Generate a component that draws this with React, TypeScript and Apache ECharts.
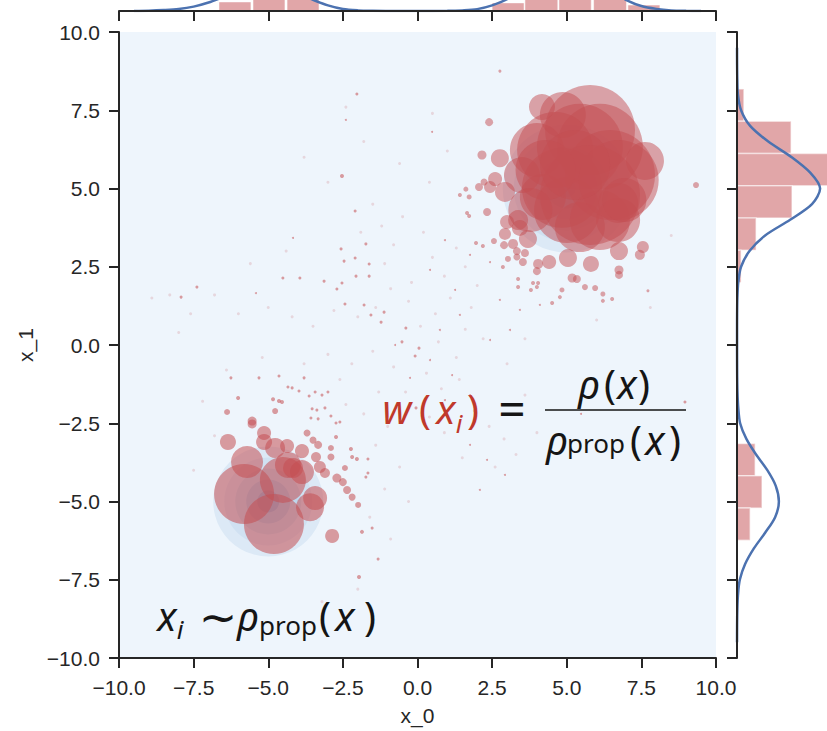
import React, { useEffect, useRef } from 'react';
import * as echarts from 'echarts';

// ---- axis ticks
const AXIS_MIN = -10;
const AXIS_MAX = 10;
const AXIS_STEP = 2.5;

// ---- proposal density contours (centre x, centre y)
const ringCenters: [number, number][] = [[5, 5], [-5, -5]];
const upperRingSizes = [128, 106, 84, 62, 40, 18];
const lowerRingSizes = [110, 88, 66, 44, 22];
const ringColors = ['#dce9f6', '#d0e1f2', '#bfd7ec', '#a9cae4', '#90b9dc', '#7aa8d3'];

// ---- weighted samples: [x, y, marker diameter]
const upperSamples: [number, number, number][] = [
  [4.17, 7.6, 26], [4.87, 7.35, 46], [5.44, 6.33, 86], [6.11, 6.33, 86], [7.62, 5.88, 38],
  [4.0, 6.23, 54], [3.5, 5.43, 36], [6.72, 4.54, 40], [6.72, 3.99, 44], [5.44, 3.77, 50],
  [5.01, 4.31, 66], [4.2, 4.73, 46], [4.84, 5.02, 80], [5.78, 6.87, 90], [4.61, 6.23, 76],
  [6.45, 5.43, 90], [5.78, 4.79, 100], [4.29, 5.59, 60], [6.11, 3.99, 60], [6.74, 5.27, 80],
  [3.78, 4.31, 44], [5.28, 5.75, 70], [6.93, 4.63, 44],
  [2.93, 4.89, 20], [2.76, 5.97, 18], [2.6, 5.3, 14], [2.43, 5.05, 12], [2.16, 6.07, 9],
  [2.4, 7.12, 8], [3.0, 3.93, 14], [3.37, 3.99, 20], [3.43, 3.74, 16], [3.7, 3.39, 18],
  [2.93, 3.55, 12], [4.41, 2.65, 14], [5.04, 2.78, 18], [5.81, 2.59, 16], [6.75, 3.0, 18],
  [7.55, 3.13, 12], [7.45, 2.88, 10], [6.75, 2.4, 9], [6.75, 2.24, 8], [5.18, 2.14, 9],
  [5.34, 2.11, 8], [4.04, 2.59, 10], [4.0, 2.36, 8], [3.53, 2.65, 8], [3.2, 3.23, 10],
  [3.33, 3.0, 8], [3.6, 2.94, 8], [3.33, 2.81, 7], [3.03, 2.75, 6], [2.56, 3.32, 6],
  [2.9, 3.19, 8], [2.33, 4.25, 8], [2.06, 5.05, 8], [2.23, 5.21, 7], [1.62, 4.98, 5],
  [1.73, 4.73, 5], [1.42, 4.79, 4], [1.66, 4.22, 4], [1.73, 4.12, 4], [1.96, 3.26, 4],
  [2.19, 3.16, 4], [2.86, 2.49, 4], [3.37, 2.11, 4], [3.37, 1.85, 4], [3.87, 1.98, 4],
  [4.04, 1.98, 4], [4.0, 1.85, 4], [3.8, 1.76, 4], [4.84, 1.76, 5], [4.77, 1.53, 4],
  [5.61, 1.85, 6], [5.95, 1.82, 6], [6.21, 1.63, 5], [6.52, 1.47, 4], [6.21, 1.41, 4],
  [4.51, 1.34, 4], [9.33, 5.11, 6], [7.72, 1.73, 3], [2.76, 8.75, 3],
];

const lowerSamples: [number, number, number][] = [
  [-4.81, -5.72, 60], [-5.81, -4.76, 60], [-5.71, -3.74, 32], [-4.51, -4.31, 46],
  [-4.34, -3.83, 26], [-4.17, -3.93, 20], [-3.6, -5.18, 28], [-3.43, -4.89, 24],
  [-3.87, -4.06, 24], [-3.87, -3.39, 14], [-4.37, -3.23, 14], [-4.77, -3.29, 20],
  [-5.14, -2.81, 14], [-5.14, -3.1, 16], [-6.35, -3.1, 16], [-5.54, -2.43, 9],
  [-5.54, -2.52, 9], [-6.38, -2.14, 6], [-6.01, -1.69, 4], [-4.77, -2.11, 6],
  [-4.84, -1.73, 4], [-4.64, -1.79, 4], [-4.54, -1.82, 4], [-2.86, -6.1, 14],
  [-3.4, -3.58, 10], [-3.33, -3.19, 8], [-3.5, -3.04, 7], [-3.7, -2.81, 7],
  [-2.9, -3.58, 7], [-3.27, -3.9, 12], [-3.1, -4.09, 10], [-2.7, -4.25, 9],
  [-2.5, -4.38, 8], [-2.36, -4.63, 8], [-2.19, -4.86, 7], [-1.99, -5.11, 6],
  [-2.43, -3.93, 6], [-2.73, -2.94, 4], [-2.9, -3.29, 6], [-2.19, -3.58, 4],
  [-2.03, -3.64, 4], [-1.66, -3.64, 3], [-1.86, -5.97, 4], [-1.52, -5.85, 3],
  [-1.32, -6.84, 3], [-1.96, -7.41, 4], [-1.73, -4.22, 3], [-1.66, -4.09, 3],
  [-2.23, -3.32, 4], [-2.73, -2.49, 3], [-3.57, -2.33, 3], [-3.33, -2.36, 3],
  [-3.1, -2.01, 3], [-3.53, -2.04, 3], [-3.37, -2.08, 3], [-2.9, -2.27, 3],
  [-2.6, -2.46, 3], [-4.34, -1.34, 3], [-4.2, -1.37, 3], [-3.97, -1.47, 3],
  [-3.63, -1.63, 3], [-3.43, -1.5, 3], [-3.2, -1.6, 3], [-3.0, -1.5, 3],
];

const bridgeSamples: [number, number, number][] = [
  [-2.53, 5.4, 4], [-2.09, 4.28, 3], [-2.56, 3.07, 3], [-2.46, 2.68, 3], [-2.09, 2.78, 3],
  [-1.62, 2.59, 3], [-2.06, 2.2, 3], [-1.62, 2.2, 3], [-2.53, 1.98, 3], [-2.7, 1.79, 3],
  [-3.13, 2.04, 3], [-3.94, 2.14, 3], [-4.51, 2.14, 3], [-7.39, 1.85, 3], [-7.92, 1.53, 3],
  [-2.43, 1.31, 3], [-1.79, 1.28, 3], [-1.56, 0.96, 3], [-1.12, 1.05, 3], [-1.22, 0.73, 3],
  [-0.39, 0.54, 3], [-0.52, 0.1, 3], [-0.08, -0.35, 3], [0.05, -0.1, 3], [-1.73, 3.23, 3],
  [-6.25, -1.05, 3], [-5.31, -1.05, 3], [-4.64, -0.99, 3], [-3.8, -1.05, 3],
  [-2.03, 8.02, 3], [-2.4, 7.19, 2], [0.49, 6.81, 2], [-4.17, 3.42, 2], [-5.41, 1.66, 2],
  [-0.05, -2.01, 3], [-0.59, -2.4, 2], [-0.25, -1.05, 2], [0.92, -1.76, 2], [1.76, -3.19, 2],
  [2.33, -3.67, 2], [2.93, -4.15, 2], [2.09, -4.63, 2], [8.96, -1.82, 3], [5.48, -2.2, 2],
  [2.76, 1.44, 2], [1.42, 0.96, 2], [0.75, 0.48, 2], [0.42, -0.48, 2], [-0.75, 0.0, 2],
  [1.16, -0.96, 2], [1.76, -1.6, 2], [2.43, 0.16, 2], [3.1, 0.48, 2], [3.43, 1.12, 2],
  [4.1, 1.28, 2], [1.26, 1.76, 2], [0.42, 2.4, 2], [0.92, 3.35, 2], [1.76, 2.88, 2],
  [2.43, 2.65, 2],
];

const faintSamples: [number, number][] = [
  [-1.5, 4.5], [-1.2, 3.8], [-0.8, 3.2], [-0.5, 4.1], [0.2, 3.6], [0.5, 2.8], [0.9, 2.2],
  [1.3, 3.1], [1.6, 2.5], [2.0, 1.9], [1.8, 1.2], [1.1, 1.5], [0.6, 1.0], [0.1, 0.6],
  [-0.3, 1.4], [-0.9, 1.8], [-1.4, 1.2], [-2.0, 0.9], [-2.8, 1.1], [-3.5, 0.6], [-4.2, 0.9],
  [-5.0, 1.2], [-6.0, 1.0], [-6.8, 1.6], [-7.6, 1.0], [-8.3, 1.6], [-8.9, 1.5], [-3.0, -0.3],
  [-2.2, -0.6], [-1.5, -0.2], [-0.8, -0.7], [0.3, -0.9], [0.8, -1.4], [1.4, -1.1], [1.9, -2.1],
  [2.4, -2.6], [2.9, -3.0], [3.3, -3.5], [2.6, -3.9], [1.5, -3.6], [0.9, -2.8], [0.4, -2.3],
  [-0.4, -1.5], [-1.0, -2.6], [-1.4, -3.2], [-0.6, -3.9], [-1.1, -4.6], [-0.3, -5.0],
  [-1.6, -5.5], [-0.9, -6.2], [-2.6, -1.1], [-3.8, -0.6], [-5.2, -0.4], [-6.4, -0.8],
  [-7.2, -1.8], [-6.8, -2.9], [-7.5, -4.0], [-3.0, 5.2], [-3.8, 6.0], [-1.8, 6.5],
  [-0.6, 5.8], [0.4, 5.2], [1.0, 6.2], [0.5, 7.4], [-2.4, 7.6], [1.6, 0.5], [2.2, 0.2],
  [3.0, -0.6], [3.6, -1.6], [4.0, -2.8], [-2.0, -7.8], [-3.2, -8.2], [6.0, 0.8], [7.8, 1.2],
  [8.5, 3.5], [3.6, 0.2], [-4.4, 3.0], [-5.6, 2.6], [-8.0, 0.4], [-1.9, 3.6], [-1.1, 2.6],
  [-0.2, 2.0], [0.7, 0.1], [1.3, -0.4], [-2.4, -1.9], [-1.8, -2.2], [-1.3, -1.5],
];

// ---- marginal histogram for x_1 (right): [y0, y1, density]
const rightHist: [number, number, number][] = [
  [7.15, 8.18, 0.022], [6.12, 7.15, 0.173], [5.09, 6.12, 0.33], [4.06, 5.09, 0.176],
  [3.03, 4.06, 0.061], [2.0, 3.03, 0.013],
  [-4.18, -3.15, 0.058], [-5.21, -4.18, 0.08], [-6.24, -5.21, 0.042],
];
const rightKdeY = [9.5, 9, 8.5, 8, 7.5, 7, 6.5, 6, 5.5, 5, 4.5, 4, 3.5, 3, 2.5, 2, 1.5, 1, 0.5, 0, -0.5, -1, -1.5, -2, -2.5, -3, -3.5, -4, -4.5, -5, -5.5, -6, -6.5, -7, -7.5, -8, -8.5, -9, -9.5];
const rightKdeD = [0.0001, 0.0003, 0.001, 0.003, 0.013, 0.042, 0.1, 0.175, 0.235, 0.266, 0.24, 0.17, 0.09, 0.04, 0.013, 0.004, 0.0012, 0.0004, 0.0002, 0.0002, 0.0003, 0.0006, 0.0015, 0.004, 0.01, 0.03, 0.061, 0.097, 0.124, 0.134, 0.122, 0.09, 0.054, 0.026, 0.009, 0.003, 0.001, 0.0003, 0.0001];

// ---- marginal histogram for x_0 (top): [x0, x1, density]
const topHist: [number, number, number][] = [
  [-6.65, -5.58, 0.029], [-5.51, -4.44, 0.096], [-4.37, -3.3, 0.064],
  [2.5, 3.57, 0.026], [3.6, 4.7, 0.128], [4.74, 5.82, 0.19], [5.9, 7.0, 0.128], [7.05, 8.12, 0.019],
];
const topKdeX = [-9.5, -9, -8.5, -8, -7.5, -7, -6.5, -6, -5.5, -5, -4.5, -4, -3.5, -3, -2.5, -2, -1.5, -1, 0, 1, 1.5, 2, 2.5, 3, 3.5, 4, 4.5, 5, 5.5, 6, 6.5, 7, 7.5, 8, 8.5, 9, 9.5];
const topKdeD = [0.0003, 0.001, 0.003, 0.0064, 0.014, 0.027, 0.045, 0.063, 0.078, 0.083, 0.075, 0.057, 0.036, 0.018, 0.0064, 0.002, 0.0006, 0.0003, 0.0002, 0.0005, 0.002, 0.006, 0.018, 0.038, 0.07, 0.103, 0.124, 0.128, 0.12, 0.097, 0.066, 0.035, 0.016, 0.0068, 0.002, 0.0006, 0.0002];

const RED = '#c44e52';
const BLUE = '#4c72b0';
const INK = '#262626';
const LABEL_FONT = '"Liberation Sans", Arial, Helvetica, sans-serif';
const MATH_FONT = '"Noto Sans", "DejaVu Sans", sans-serif';

const fmt = (v: number) => (v < 0 ? '\u2212' : '') + Math.abs(v).toFixed(1);

function glyph(text: string, x: number, y: number, size: number, italic: boolean, color = '#151515') {
  return {
    type: 'text',
    x,
    y,
    silent: true,
    style: {
      text,
      fill: color,
      fontSize: size,
      fontFamily: MATH_FONT,
      fontStyle: italic ? 'italic' : 'normal',
      align: 'center',
      textAlign: 'center',
      verticalAlign: 'middle',
      textVerticalAlign: 'middle',
    },
  };
}

export default function App() {
  const ref = useRef<HTMLDivElement>(null);

  useEffect(() => {
    document.body.style.margin = '0';
    if (!ref.current) return;
    const chart = echarts.init(ref.current, undefined, { renderer: 'svg' });

    const ringData: any[] = [];
    ringCenters.forEach((c, ci) => {
      const sizes = ci === 0 ? upperRingSizes : lowerRingSizes;
      sizes.forEach((s, i) => ringData.push([c[0], c[1], s, i]));
    });

    const F = 40;
    const S = 26;
    const W = '#c0392b';
    const graphics: any[] = [
      // w(x_i) = rho(x) / rho_prop(x)
      glyph('w', 397, 408, F, true, W),
      glyph('(', 425, 408, F, false, W),
      glyph('x', 446, 408, F, true, W),
      glyph('i', 459, 423, S, true, W),
      glyph(')', 473, 408, F, false, W),
      glyph('=', 512, 407, 48, false),
      { type: 'line', silent: true, shape: { x1: 545, y1: 410, x2: 686, y2: 410 }, style: { stroke: '#151515', lineWidth: 1.6 } },
      glyph('\u03c1', 589, 383, F, true),
      glyph('(', 610, 383, F, false),
      glyph('x', 627, 383, F, true),
      glyph(')', 644, 383, F, false),
      glyph('\u03c1', 557, 439, F, true),
      glyph('prop', 596, 443, S, false),
      glyph('(', 636, 439, F, false),
      glyph('x', 655, 439, F, true),
      glyph(')', 675, 439, F, false),
      // x_i ~ rho_prop(x)
      glyph('x', 167, 615, F, true),
      glyph('i', 180, 629, S, true),
      glyph('\u223c', 218, 615, 46, false),
      glyph('\u03c1', 248, 615, F, true),
      glyph('prop', 288, 625, S, false),
      glyph('(', 325, 615, F, false),
      glyph('x', 345, 615, F, true),
      glyph(')', 370, 615, F, false),
    ];

    const axisLine = { show: true, onZero: false, lineStyle: { color: INK, width: 2 } };
    const axisTick = { show: true, inside: false, length: 10, lineStyle: { color: INK, width: 2 } };
    const labelStyle = { formatter: fmt, color: INK, fontSize: 21, fontFamily: LABEL_FONT, margin: 19 };
    const nameStyle = { color: INK, fontSize: 21, fontFamily: LABEL_FONT };

    chart.setOption({
      animation: false,
      grid: [
        { left: 119, top: 32, width: 597, height: 626, show: true, backgroundColor: '#eef5fc', borderWidth: 0, containLabel: false, outerBoundsMode: 'none' },
        { left: 119, top: -89, width: 597, height: 100, containLabel: false, outerBoundsMode: 'none' },
        { left: 737, top: 32, width: 90, height: 626, containLabel: false, outerBoundsMode: 'none' },
      ],
      xAxis: [
        {
          gridIndex: 0, type: 'value', min: AXIS_MIN, max: AXIS_MAX, interval: AXIS_STEP, position: 'bottom',
          axisLine, axisTick, splitLine: { show: false }, axisLabel: labelStyle,
          name: 'x_0', nameLocation: 'middle', nameGap: 47,
          nameTextStyle: { ...nameStyle, verticalAlign: 'top' },
          z: 10,
        },
        {
          gridIndex: 1, type: 'value', min: AXIS_MIN, max: AXIS_MAX, interval: AXIS_STEP, position: 'bottom',
          axisLine, axisTick, splitLine: { show: false }, axisLabel: { show: false }, z: 10,
        },
        { gridIndex: 2, type: 'value', min: 0, max: 0.288, show: false },
      ],
      yAxis: [
        {
          gridIndex: 0, type: 'value', min: AXIS_MIN, max: AXIS_MAX, interval: AXIS_STEP, position: 'left',
          axisLine, axisTick, splitLine: { show: false }, axisLabel: labelStyle,
          name: 'x_1', nameLocation: 'middle', nameGap: 82, nameRotate: 90,
          nameTextStyle: nameStyle,
          z: 10,
        },
        { gridIndex: 1, type: 'value', min: 0, max: 0.32, show: false },
        {
          gridIndex: 2, type: 'value', min: AXIS_MIN, max: AXIS_MAX, interval: AXIS_STEP, position: 'left',
          axisLine, axisTick, splitLine: { show: false }, axisLabel: { show: false }, z: 10,
        },
      ],
      series: [
        {
          type: 'scatter', xAxisIndex: 0, yAxisIndex: 0, data: ringData, silent: true,
          symbolSize: (v: number[]) => v[2],
          itemStyle: { color: (p: any) => ringColors[p.data[3]], opacity: 1 },
        },
        {
          type: 'scatter', xAxisIndex: 0, yAxisIndex: 0, silent: true,
          data: faintSamples.map((p) => [p[0], p[1], 3]),
          symbolSize: (v: number[]) => v[2],
          itemStyle: { color: RED, opacity: 0.18 },
        },
        {
          type: 'scatter', xAxisIndex: 0, yAxisIndex: 0, silent: true, data: bridgeSamples,
          symbolSize: (v: number[]) => v[2],
          itemStyle: { color: RED, opacity: 0.55 },
        },
        {
          type: 'scatter', xAxisIndex: 0, yAxisIndex: 0, silent: true, data: lowerSamples,
          symbolSize: (v: number[]) => v[2],
          itemStyle: { color: RED, opacity: 0.55 },
        },
        {
          type: 'scatter', xAxisIndex: 0, yAxisIndex: 0, silent: true, data: upperSamples,
          symbolSize: (v: number[]) => v[2],
          itemStyle: { color: RED, opacity: 0.5 },
        },
        {
          type: 'custom', xAxisIndex: 1, yAxisIndex: 1, data: topHist, silent: true,
          encode: { x: [0, 1], y: 2 },
          renderItem: (params: any, api: any) => {
            const a = api.coord([api.value(0), api.value(2)]);
            const b = api.coord([api.value(1), 0]);
            return {
              type: 'rect',
              shape: { x: a[0], y: a[1], width: b[0] - a[0], height: b[1] - a[1] },
              style: { fill: RED, opacity: 0.5, stroke: '#fff', lineWidth: 1 },
            };
          },
        },
        {
          type: 'line', xAxisIndex: 1, yAxisIndex: 1, silent: true, showSymbol: false, smooth: 0.3,
          data: topKdeX.map((x, i) => [x, topKdeD[i]]),
          lineStyle: { color: BLUE, width: 2.5 },
        },
        {
          type: 'custom', xAxisIndex: 2, yAxisIndex: 2, data: rightHist, silent: true,
          encode: { x: 2, y: [0, 1] },
          renderItem: (params: any, api: any) => {
            const a = api.coord([0, api.value(1)]);
            const b = api.coord([api.value(2), api.value(0)]);
            return {
              type: 'rect',
              shape: { x: a[0], y: a[1], width: b[0] - a[0], height: b[1] - a[1] },
              style: { fill: RED, opacity: 0.5, stroke: '#fff', lineWidth: 1.5 },
            };
          },
        },
        {
          type: 'line', xAxisIndex: 2, yAxisIndex: 2, silent: true, showSymbol: false, smooth: 0.3,
          data: rightKdeY.map((y, i) => [rightKdeD[i], y]),
          lineStyle: { color: BLUE, width: 2.5 },
        },
      ],
      graphic: { elements: graphics },
    });

    return () => chart.dispose();
  }, []);

  return <div ref={ref} style={{ width: 827, height: 731 }} />;
}
